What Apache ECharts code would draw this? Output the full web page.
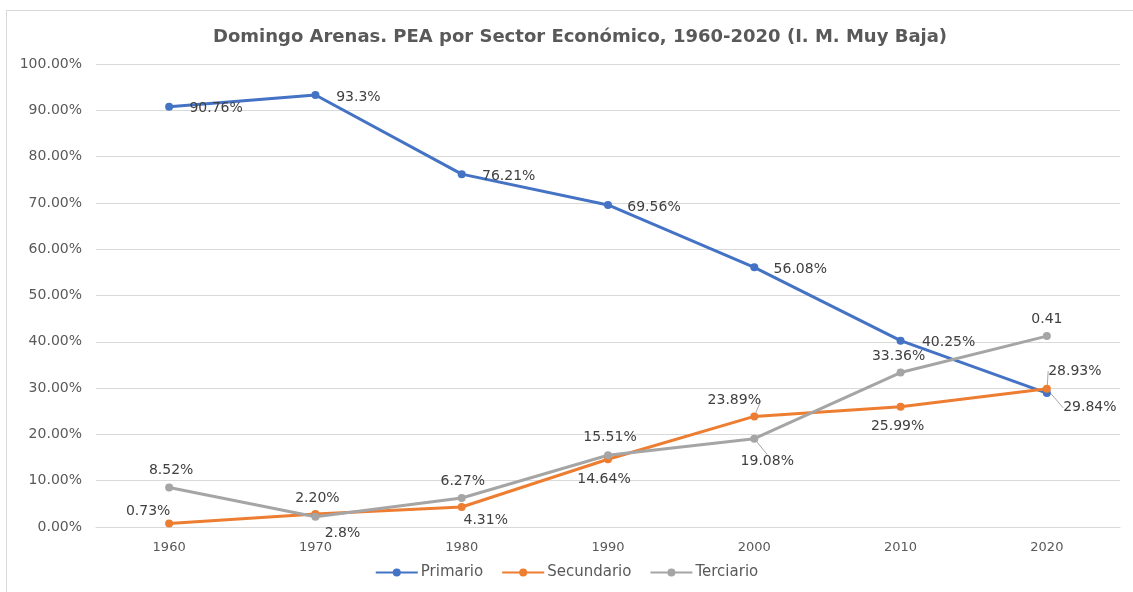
<!DOCTYPE html>
<html>
<head>
<meta charset="utf-8">
<script src="https://cdn.jsdelivr.net/npm/echarts@6/dist/echarts.min.js"></script>
<style>
    html, body { margin: 0; padding: 0; background: #fff; overflow: hidden; }
    #chart { width: 1133px; height: 592px; position: relative; }
    .frame {
        position: absolute;
        left: 6px;
        top: 10px;
        width: 1127px;
        height: 582px;
        border-top: 1px solid #d9d9d9;
        border-left: 1px solid #d9d9d9;
        box-sizing: border-box;
        pointer-events: none;
    }
</style>
</head>
<body>
<div id="chart"></div>
<div class="frame"></div>
<script>
const years = ['1960', '1970', '1980', '1990', '2000', '2010', '2020'];

const primario = [90.76, 93.3, 76.21, 69.56, 56.08, 40.25, 28.93];
const secundario = [0.73, 2.8, 4.31, 14.64, 23.89, 25.99, 29.84];
const terciario = [8.52, 2.20, 6.27, 15.51, 19.08, 33.36, 41.23];

// textos de etiqueta tal cual aparecen
const primarioLabels = ['90.76%', '93.3%', '76.21%', '69.56%', '56.08%', '40.25%', '28.93%'];
const secundarioLabels = ['0.73%', '2.8%', '4.31%', '14.64%', '23.89%', '25.99%', '29.84%'];
const terciarioLabels = ['8.52%', '2.20%', '6.27%', '15.51%', '19.08%', '33.36%', '0.41'];

// desplazamiento de cada etiqueta respecto a su punto
const offsets = [
    [[47, 2], [43, 2], [47, 2], [46, 2], [46, 2], [48, 2], [28, -22]],
    [[-21, -12], [27, 19], [24, 13], [-4, 20], [-20, -16], [-3, 20], [43, 19]],
    [[2, -17], [2, -18], [1, -17], [2, -18], [13, 23], [-2, -16], [0, -17]]
];
// etiquetas con línea guía
const guides = [
    [6],
    [4, 6],
    [4]
];

function buildData(values, labels, s) {
    return values.map((v, i) => ({
        value: v,
        label: { formatter: labels[i] },
        labelLine: { show: guides[s].indexOf(i) >= 0 }
    }));
}

const chart = echarts.init(document.getElementById('chart'));

function makeSeries(name, color, values, labels, s) {
    return {
        name: name,
        type: 'line',
        data: buildData(values, labels, s),
        symbol: 'circle',
        symbolSize: 8,
        itemStyle: { color: color },
        lineStyle: { color: color, width: 3 },
        label: {
            show: true,
            position: 'inside',
            fontFamily: 'DejaVu Sans',
            fontSize: 14,
            color: '#404040'
        },
        labelLine: {
            show: false,
            lineStyle: { color: '#a6a6a6', width: 1 }
        },
        labelLayout: params => ({
            dx: offsets[s][params.dataIndex][0],
            dy: offsets[s][params.dataIndex][1]
        }),
        emphasis: { disabled: true },
        animation: false
    };
}

chart.setOption({
    animation: false,
    title: {
        text: 'Domingo Arenas. PEA por Sector Económico, 1960-2020 (I. M. Muy Baja)',
        left: 208,
        top: 23,
        textStyle: {
            fontFamily: 'DejaVu Sans',
            fontWeight: 'bold',
            fontSize: 18,
            color: '#595959'
        }
    },
    grid: {
        left: 96,
        right: 13,
        top: 64,
        bottom: 65
    },
    legend: {
        bottom: 7,
        left: 'center',
        itemWidth: 42,
        itemHeight: 10,
        itemGap: 18,
        textStyle: {
            fontFamily: 'DejaVu Sans',
            fontSize: 15,
            color: '#595959',
            padding: [0, 0, 0, -2]
        },
        data: ['Primario', 'Secundario', 'Terciario']
    },
    xAxis: {
        type: 'category',
        data: years,
        boundaryGap: true,
        axisTick: { show: false },
        axisLine: { lineStyle: { color: '#d9d9d9' } },
        axisLabel: {
            fontFamily: 'DejaVu Sans',
            fontSize: 13,
            color: '#595959',
            margin: 14
        }
    },
    yAxis: {
        type: 'value',
        min: 0,
        max: 100,
        interval: 10,
        axisLine: { show: false },
        axisTick: { show: false },
        splitLine: { lineStyle: { color: '#d9d9d9' } },
        axisLabel: {
            fontFamily: 'DejaVu Sans',
            fontSize: 14,
            color: '#595959',
            margin: 14,
            formatter: v => v.toFixed(2) + '%'
        }
    },
    series: [
        makeSeries('Primario', '#4472C4', primario, primarioLabels, 0),
        makeSeries('Secundario', '#ED7D31', secundario, secundarioLabels, 1),
        makeSeries('Terciario', '#A5A5A5', terciario, terciarioLabels, 2)
    ]
});
</script>
</body>
</html>
